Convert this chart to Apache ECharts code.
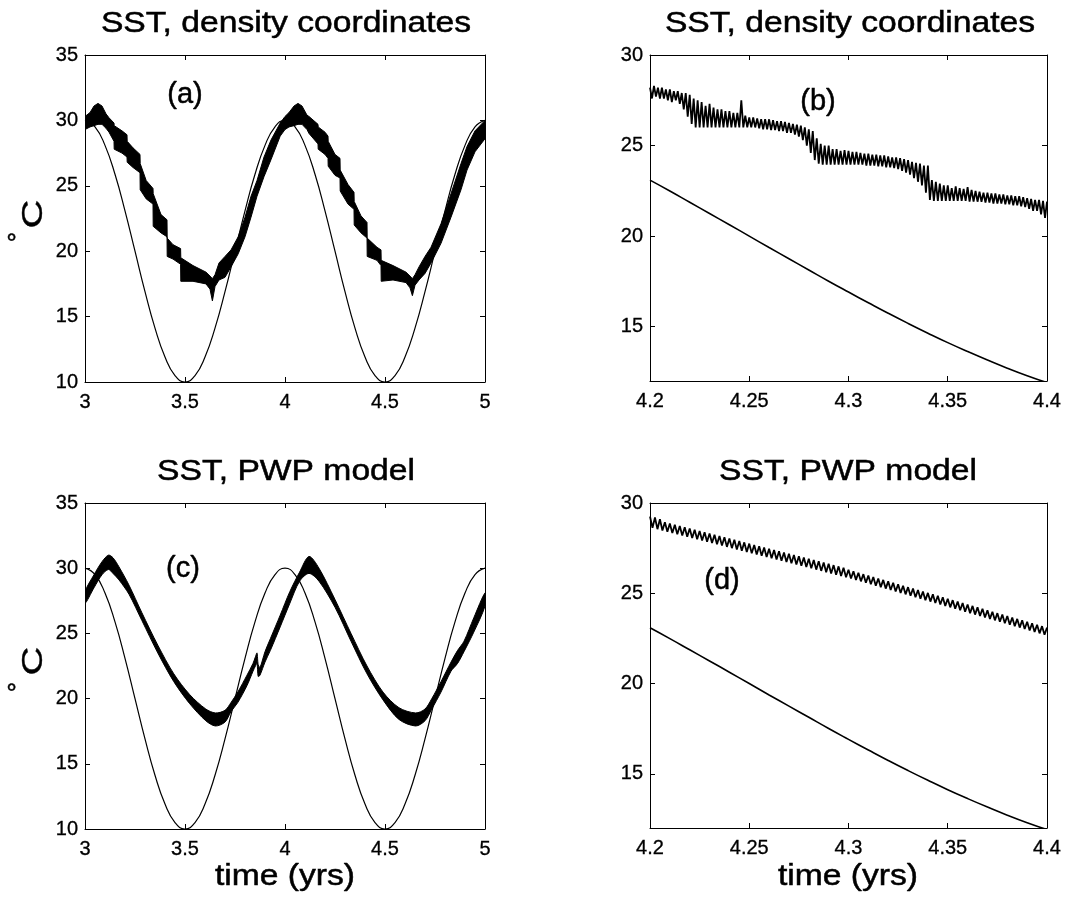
<!DOCTYPE html>
<html>
<head>
<meta charset="utf-8">
<script src="https://cdn.jsdelivr.net/npm/echarts/dist/echarts.min.js"></script>
<style>
html, body { margin: 0; background: #fff; }
#chart { width: 1086px; height: 901px; }
</style>
</head>
<body>
<div id="chart"></div>
<script>
// forcing curve (thin line), sampled every 0.05 yr over 3..5
var slowTime = [3, 3.05, 3.1, 3.15, 3.2, 3.25, 3.3, 3.35, 3.4, 3.45, 3.5, 3.55, 3.6, 3.65, 3.7, 3.75, 3.8, 3.85, 3.9, 3.95,
  4, 4.05, 4.1, 4.15, 4.2, 4.25, 4.3, 4.35, 4.4, 4.45, 4.5, 4.55, 4.6, 4.65, 4.7, 4.75, 4.8, 4.85, 4.9, 4.95, 5];
var slowThin = [30, 29.51, 28.09, 25.88, 23.09, 20, 16.91, 14.12, 11.91, 10.49, 10, 10.49, 11.91, 14.12, 16.91, 20, 23.09, 25.88, 28.09, 29.51,
  30, 29.51, 28.09, 25.88, 23.09, 20, 16.91, 14.12, 11.91, 10.49, 10, 10.49, 11.91, 14.12, 16.91, 20, 23.09, 25.88, 28.09, 29.51, 30];

// same thin curve, close up 4.2..4.4
var fastTime = [4.2, 4.21, 4.22, 4.23, 4.24, 4.25, 4.26, 4.27, 4.28, 4.29, 4.3, 4.31, 4.32, 4.33, 4.34, 4.35, 4.36, 4.37, 4.38, 4.39, 4.4];
var fastThin = [23.09, 22.49, 21.87, 21.25, 20.63, 20, 19.37, 18.75, 18.13, 17.51, 16.91, 16.32, 15.74, 15.18, 14.64, 14.12, 13.63, 13.16, 12.71, 12.29, 11.91];

// (a) density coordinates SST, band envelope
var aTime = [3.000, 3.025, 3.045, 3.065, 3.085, 3.105, 3.120, 3.145, 3.146, 3.185, 3.210, 3.211, 3.240, 3.275, 3.276, 3.306, 3.340, 3.341, 3.380, 3.410,
  3.411, 3.440, 3.478, 3.479, 3.540, 3.605, 3.625, 3.637, 3.650, 3.670, 3.700, 3.730, 3.766, 3.800, 3.830, 3.860, 3.895, 3.930, 3.976,
  4.000, 4.020, 4.045, 4.065, 4.085, 4.110, 4.120, 4.165, 4.166, 4.200, 4.215, 4.216, 4.250, 4.275, 4.276, 4.315, 4.345, 4.346, 4.380, 4.410,
  4.411, 4.460, 4.480, 4.481, 4.540, 4.605, 4.625, 4.637, 4.650, 4.670, 4.700, 4.730, 4.780, 4.830, 4.880, 4.910, 4.950, 5.000];
var aUpper = [30.3, 30.6, 31.1, 31.3, 31.1, 30.5, 30.2, 29.8, 29.6, 29.2, 28.9, 28.4, 27.9, 27.4, 26.7, 25.4, 24.8, 24.4, 22.8, 22.4,
  21.0, 20.5, 20.2, 19.5, 18.9, 18.4, 18.1, 17.9, 18.2, 19.1, 19.6, 20.1, 21.1, 22.6, 24.2, 25.4, 27.2, 28.5, 29.8,
  30.3, 30.6, 31.1, 31.3, 31.1, 30.4, 30.3, 29.7, 29.5, 29.1, 28.8, 28.4, 27.4, 27.1, 26.2, 25.1, 24.5, 23.8, 22.7, 22.2,
  21.0, 20.3, 20.1, 19.3, 18.9, 18.4, 18.1, 17.9, 18.2, 18.8, 19.6, 20.3, 22.1, 24.4, 26.7, 28.0, 29.2, 30.0];
var aLower = [29.3, 29.5, 29.6, 29.7, 29.7, 29.4, 29.1, 28.4, 27.8, 27.5, 27.2, 26.8, 26.4, 26.0, 24.7, 24.0, 23.6, 21.9, 21.4, 21.1,
  19.6, 19.4, 19.0, 17.7, 17.7, 17.5, 17.1, 16.2, 17.3, 17.8, 18.0, 18.8, 19.8, 21.1, 22.6, 24.2, 25.7, 27.0, 28.8,
  29.3, 29.5, 29.6, 29.7, 29.7, 29.3, 29.0, 28.2, 27.8, 27.4, 27.1, 26.5, 25.8, 25.6, 24.6, 23.6, 23.2, 22.0, 21.4, 21.0,
  19.6, 19.3, 18.9, 17.7, 17.8, 17.6, 17.2, 16.6, 17.4, 17.8, 18.3, 19.1, 20.6, 22.6, 24.7, 26.2, 27.6, 28.6];

// (c) PWP model SST, band envelope
var cTime = [3.000, 3.045, 3.085, 3.117, 3.140, 3.170, 3.220, 3.284, 3.364, 3.444, 3.524, 3.604, 3.652, 3.700, 3.730, 3.764, 3.810, 3.840, 3.852, 3.860,
  3.866, 3.875, 3.900, 3.927, 3.976, 4.024, 4.073, 4.120, 4.170, 4.250, 4.330, 4.410, 4.490, 4.570, 4.653, 4.700, 4.734, 4.780, 4.830, 4.863,
  4.895, 4.944, 5.000];
var cUpper = [28.2, 29.5, 30.5, 31.0, 30.8, 30.1, 28.7, 26.6, 24.1, 21.9, 20.3, 19.2, 18.9, 19.1, 19.7, 20.5, 21.8, 22.7, 23.2, 23.5,
  22.6, 22.4, 23.6, 24.6, 26.4, 28.2, 29.7, 30.9, 30.0, 27.6, 25.0, 22.5, 20.5, 19.3, 18.9, 19.2, 20.0, 21.3, 22.8, 23.7,
  24.4, 26.2, 28.1];
var cLower = [27.3, 28.5, 29.5, 29.9, 29.6, 29.1, 28.0, 26.0, 23.5, 21.3, 19.6, 18.3, 17.9, 18.2, 19.0, 19.7, 21.0, 22.1, 22.5, 22.7,
  21.7, 21.8, 22.8, 23.7, 25.5, 27.3, 29.0, 29.6, 29.0, 27.0, 24.4, 21.9, 19.9, 18.4, 17.9, 18.3, 19.2, 20.5, 22.1, 22.7,
  23.6, 25.1, 27.1];

// (b) density coordinates, close up (one point per peak/trough)
var bTime = [4.2, 4.201, 4.202, 4.203, 4.204, 4.205, 4.206, 4.207, 4.208, 4.209,
  4.21, 4.211, 4.212, 4.213, 4.214, 4.215, 4.216, 4.217, 4.218, 4.219,
  4.22, 4.221, 4.222, 4.223, 4.224, 4.225, 4.226, 4.227, 4.228, 4.229,
  4.23, 4.231, 4.232, 4.233, 4.234, 4.235, 4.236, 4.237, 4.238, 4.239,
  4.24, 4.241, 4.242, 4.243, 4.244, 4.245, 4.246, 4.247, 4.248, 4.249,
  4.25, 4.251, 4.252, 4.253, 4.254, 4.255, 4.256, 4.257, 4.258, 4.259,
  4.26, 4.261, 4.262, 4.263, 4.264, 4.265, 4.266, 4.267, 4.268, 4.269,
  4.27, 4.271, 4.272, 4.273, 4.274, 4.275, 4.276, 4.277, 4.278, 4.279,
  4.28, 4.281, 4.282, 4.283, 4.284, 4.285, 4.286, 4.287, 4.288, 4.289,
  4.29, 4.291, 4.292, 4.293, 4.294, 4.295, 4.296, 4.297, 4.298, 4.299,
  4.3, 4.301, 4.302, 4.303, 4.304, 4.305, 4.306, 4.307, 4.308, 4.309,
  4.31, 4.311, 4.312, 4.313, 4.314, 4.315, 4.316, 4.317, 4.318, 4.319,
  4.32, 4.321, 4.322, 4.323, 4.324, 4.325, 4.326, 4.327, 4.328, 4.329,
  4.33, 4.331, 4.332, 4.333, 4.334, 4.335, 4.336, 4.337, 4.338, 4.339,
  4.34, 4.341, 4.342, 4.343, 4.344, 4.345, 4.346, 4.347, 4.348, 4.349,
  4.35, 4.351, 4.352, 4.353, 4.354, 4.355, 4.356, 4.357, 4.358, 4.359,
  4.36, 4.361, 4.362, 4.363, 4.364, 4.365, 4.366, 4.367, 4.368, 4.369,
  4.37, 4.371, 4.372, 4.373, 4.374, 4.375, 4.376, 4.377, 4.378, 4.379,
  4.38, 4.381, 4.382, 4.383, 4.384, 4.385, 4.386, 4.387, 4.388, 4.389,
  4.39, 4.391, 4.392, 4.393, 4.394, 4.395, 4.396, 4.397, 4.398, 4.399, 4.4];
var bTemp = [28.2, 27.6, 28.3, 27.7, 28.2, 27.6, 28.2, 27.6, 28.1, 27.5,
  28.1, 27.4, 28.0, 27.5, 28.0, 27.3, 27.9, 27.0, 27.9, 26.6,
  27.8, 26.2, 27.6, 26.0, 27.5, 26.0, 27.4, 26.0, 27.2, 26.0,
  27.3, 26.0, 27.1, 26.0, 27.0, 26.0, 27.0, 26.0, 26.9, 26.0,
  26.9, 26.0, 26.8, 26.0, 26.8, 26.0, 27.5, 26.0, 26.65, 26.0,
  26.55, 26.0, 26.55, 26.0, 26.5, 25.95, 26.45, 25.9, 26.45, 25.9,
  26.45, 25.85, 26.4, 25.85, 26.35, 25.8, 26.35, 25.8, 26.3, 25.7,
  26.25, 25.7, 26.2, 25.6, 26.15, 25.5, 26.1, 25.3, 26.0, 25.0,
  25.9, 24.6, 25.8, 24.2, 25.4, 24.0, 25.1, 23.95, 25.0, 23.95,
  25.0, 23.95, 24.8, 23.95, 24.8, 23.95, 24.7, 23.95, 24.75, 23.95,
  24.7, 23.95, 24.65, 23.95, 24.65, 23.95, 24.6, 23.95, 24.55, 23.9,
  24.55, 23.9, 24.5, 23.9, 24.5, 23.85, 24.45, 23.85, 24.45, 23.8,
  24.4, 23.8, 24.35, 23.75, 24.35, 23.7, 24.3, 23.6, 24.25, 23.5,
  24.2, 23.4, 24.1, 23.2, 24.05, 23.0, 24.0, 22.8, 23.9, 22.4,
  23.9, 22.0, 23.1, 21.95, 23.0, 21.95, 22.9, 21.95, 22.8, 21.95,
  22.8, 21.95, 22.65, 21.95, 22.75, 21.95, 22.65, 21.95, 22.6, 21.95,
  22.7, 21.9, 22.55, 21.9, 22.5, 21.9, 22.45, 21.9, 22.4, 21.85,
  22.4, 21.85, 22.35, 21.8, 22.35, 21.8, 22.3, 21.8, 22.3, 21.75,
  22.25, 21.75, 22.25, 21.7, 22.2, 21.7, 22.2, 21.65, 22.15, 21.6,
  22.1, 21.5, 22.05, 21.4, 22.0, 21.4, 22.0, 21.2, 21.95, 21.0, 21.9];

// (d) PWP model, close up
var dTime = [4.2, 4.20125, 4.2025, 4.20375, 4.205, 4.20625, 4.2075, 4.20875,
  4.21, 4.21125, 4.2125, 4.21375, 4.215, 4.21625, 4.2175, 4.21875,
  4.22, 4.22125, 4.2225, 4.22375, 4.225, 4.22625, 4.2275, 4.22875,
  4.23, 4.23125, 4.2325, 4.23375, 4.235, 4.23625, 4.2375, 4.23875,
  4.24, 4.24125, 4.2425, 4.24375, 4.245, 4.24625, 4.2475, 4.24875,
  4.25, 4.25125, 4.2525, 4.25375, 4.255, 4.25625, 4.2575, 4.25875,
  4.26, 4.26125, 4.2625, 4.26375, 4.265, 4.26625, 4.2675, 4.26875,
  4.27, 4.27125, 4.2725, 4.27375, 4.275, 4.27625, 4.2775, 4.27875,
  4.28, 4.28125, 4.2825, 4.28375, 4.285, 4.28625, 4.2875, 4.28875,
  4.29, 4.29125, 4.2925, 4.29375, 4.295, 4.29625, 4.2975, 4.29875,
  4.3, 4.30125, 4.3025, 4.30375, 4.305, 4.30625, 4.3075, 4.30875,
  4.31, 4.31125, 4.3125, 4.31375, 4.315, 4.31625, 4.3175, 4.31875,
  4.32, 4.32125, 4.3225, 4.32375, 4.325, 4.32625, 4.3275, 4.32875,
  4.33, 4.33125, 4.3325, 4.33375, 4.335, 4.33625, 4.3375, 4.33875,
  4.34, 4.34125, 4.3425, 4.34375, 4.345, 4.34625, 4.3475, 4.34875,
  4.35, 4.35125, 4.3525, 4.35375, 4.355, 4.35625, 4.3575, 4.35875,
  4.36, 4.36125, 4.3625, 4.36375, 4.365, 4.36625, 4.3675, 4.36875,
  4.37, 4.37125, 4.3725, 4.37375, 4.375, 4.37625, 4.3775, 4.37875,
  4.38, 4.38125, 4.3825, 4.38375, 4.385, 4.38625, 4.3875, 4.38875,
  4.39, 4.39125, 4.3925, 4.39375, 4.395, 4.39625, 4.3975, 4.39875, 4.4];
var dTemp = [29.25, 28.62, 29.2, 28.55, 29.1, 28.48, 28.94, 28.41, 28.87, 28.34, 28.8, 28.27, 28.73, 28.2, 28.66, 28.13, 28.59, 28.06, 28.52, 27.99,
  28.45, 27.92, 28.38, 27.85, 28.31, 27.78, 28.24, 27.71, 28.17, 27.64, 28.1, 27.57, 28.03, 27.5, 27.96, 27.43, 27.89, 27.36, 27.82, 27.29,
  27.75, 27.22, 27.68, 27.15, 27.61, 27.08, 27.54, 27.01, 27.47, 26.94, 27.4, 26.87, 27.33, 26.8, 27.26, 26.73, 27.19, 26.66, 27.12, 26.59,
  27.05, 26.52, 26.98, 26.45, 26.91, 26.38, 26.84, 26.31, 26.77, 26.24, 26.7, 26.17, 26.63, 26.1, 26.56, 26.03, 26.49, 25.96, 26.42, 25.89,
  26.3, 25.82, 26.22, 25.74, 26.14, 25.66, 26.06, 25.58, 25.98, 25.5, 25.9, 25.42, 25.82, 25.34, 25.74, 25.26, 25.66, 25.18, 25.58, 25.1,
  25.5, 25.02, 25.42, 24.94, 25.34, 24.86, 25.26, 24.78, 25.18, 24.7, 25.1, 24.62, 25.02, 24.54, 24.94, 24.46, 24.86, 24.38, 24.78, 24.3,
  24.7, 24.22, 24.62, 24.14, 24.54, 24.06, 24.46, 23.98, 24.38, 23.9, 24.3, 23.82, 24.22, 23.74, 24.14, 23.66, 24.06, 23.58, 23.98, 23.5,
  23.9, 23.42, 23.82, 23.34, 23.74, 23.26, 23.66, 23.18, 23.58, 23.1, 23.5, 23.02, 23.42, 22.94, 23.34, 22.86, 23.26, 22.78, 23.18, 22.7,
  23.1];

var zoomTicks = [15, 20, 25, 30];

function pairs(t, v) {
  var out = [];
  for (var i = 0; i < t.length; i++) out.push([t[i], v[i]]);
  return out;
}

var grids = [
  { left: 85, top: 55, width: 400, height: 327 },
  { left: 650, top: 55, width: 397, height: 326 },
  { left: 85, top: 503, width: 400, height: 326 },
  { left: 650, top: 503, width: 397, height: 325 }
];

var TEXT_FONT = '"Liberation Sans", Arial, sans-serif';

function baseAxis(g, pos, showLabel) {
  return {
    type: 'value', gridIndex: g, position: pos,
    axisLine: { show: true, onZero: false, lineStyle: { color: '#000', width: 1 } },
    axisTick: { show: true, inside: true, length: 5, lineStyle: { color: '#000', width: 1 } },
    splitLine: { show: false },
    axisLabel: { show: showLabel, color: '#000', fontFamily: 'Liberation Sans', fontSize: 20,
      textBorderColor: '#000', textBorderWidth: 0.3,
      showMinLabel: true, showMaxLabel: true }
  };
}

var xAxes = [], yAxes = [];
for (var g = 0; g < 4; g++) {
  var wide = (g === 0 || g === 2);
  ['bottom', 'top'].forEach(function (pos) {
    var ax = baseAxis(g, pos, pos === 'bottom');
    ax.min = wide ? 3 : 4.2;
    ax.max = wide ? 5 : 4.4;
    ax.interval = wide ? 0.5 : 0.05;
    ax.axisLabel.margin = 10;
    xAxes.push(ax);
  });
  ['left', 'right'].forEach(function (pos) {
    var ax = baseAxis(g, pos, pos === 'left');
    if (wide) {
      ax.min = 10; ax.max = 35; ax.interval = 5;
    } else {
      ax.min = 12; ax.max = 30;
      ax.axisLabel.customValues = zoomTicks;
      ax.axisTick.customValues = zoomTicks;
    }
    ax.axisLabel.margin = 7;
    yAxes.push(ax);
  });
}

function thinLine(g, t, v, w) {
  return {
    type: 'line', xAxisIndex: 2 * g, yAxisIndex: 2 * g,
    data: pairs(t, v), showSymbol: false, smooth: true, silent: true,
    lineStyle: { color: '#000', width: w }
  };
}

function sawLine(g, t, v) {
  return {
    type: 'line', xAxisIndex: 2 * g, yAxisIndex: 2 * g,
    data: pairs(t, v), showSymbol: false, silent: true,
    lineStyle: { color: '#000', width: 1.8 }
  };
}

function band(g, t, up, lo, smooth) {
  return {
    type: 'custom', xAxisIndex: 2 * g, yAxisIndex: 2 * g,
    data: [[t[0], up[0]]], clip: true, silent: true,
    encode: { x: 0, y: 1 },
    renderItem: function (params, api) {
      var pts = [];
      for (var i = 0; i < t.length; i++) pts.push(api.coord([t[i], up[i]]));
      for (var j = t.length - 1; j >= 0; j--) pts.push(api.coord([t[j], lo[j]]));
      return {
        type: 'polygon',
        shape: { points: pts, smooth: smooth },
        style: { fill: '#000', stroke: '#000', lineWidth: 1 }
      };
    }
  };
}

function txt(x, y, s, size, opts) {
  var o = {
    type: 'text', x: x, y: y, silent: true,
    style: { text: s, font: size + 'px ' + TEXT_FONT, fill: '#000', stroke: '#000', lineWidth: 0.5,
      align: 'center', verticalAlign: 'middle', textAlign: 'center', textVerticalAlign: 'middle' }
  };
  for (var k in (opts || {})) o[k] = opts[k];
  return o;
}

var graphics = [
  txt(286, 24, 'SST, density coordinates', 29, { scaleX: 1.16 }),
  txt(850, 24, 'SST, density coordinates', 29, { scaleX: 1.16 }),
  txt(286, 472, 'SST, PWP model', 29, { scaleX: 1.16 }),
  txt(848, 472, 'SST, PWP model', 29, { scaleX: 1.16 }),
  txt(285, 877, 'time (yrs)', 29, { scaleX: 1.16 }),
  txt(848, 877, 'time (yrs)', 29, { scaleX: 1.16 }),
  txt(34, 214, 'C', 40, { rotation: Math.PI / 2, scaleY: 0.72 }),
  txt(19, 237, '\u00b0', 26, { rotation: Math.PI / 2 }),
  txt(34, 661, 'C', 40, { rotation: Math.PI / 2, scaleY: 0.72 }),
  txt(19, 687, '\u00b0', 26, { rotation: Math.PI / 2 }),
  txt(185, 95, '(a)', 29),
  txt(818, 102, '(b)', 29),
  txt(183, 569, '(c)', 29),
  txt(722, 581, '(d)', 29)
];

var chart = echarts.init(document.getElementById('chart'), null, { renderer: 'canvas' });
chart.setOption({
  animation: false,
  backgroundColor: '#fff',
  grid: grids,
  xAxis: xAxes,
  yAxis: yAxes,
  graphic: graphics,
  series: [
    thinLine(0, slowTime, slowThin, 1.2),
    band(0, aTime, aUpper, aLower, 0),
    thinLine(1, fastTime, fastThin, 1.6),
    sawLine(1, bTime, bTemp),
    thinLine(2, slowTime, slowThin, 1.2),
    band(2, cTime, cUpper, cLower, 0.3),
    thinLine(3, fastTime, fastThin, 1.6),
    sawLine(3, dTime, dTemp)
  ]
});
</script>
</body>
</html>
